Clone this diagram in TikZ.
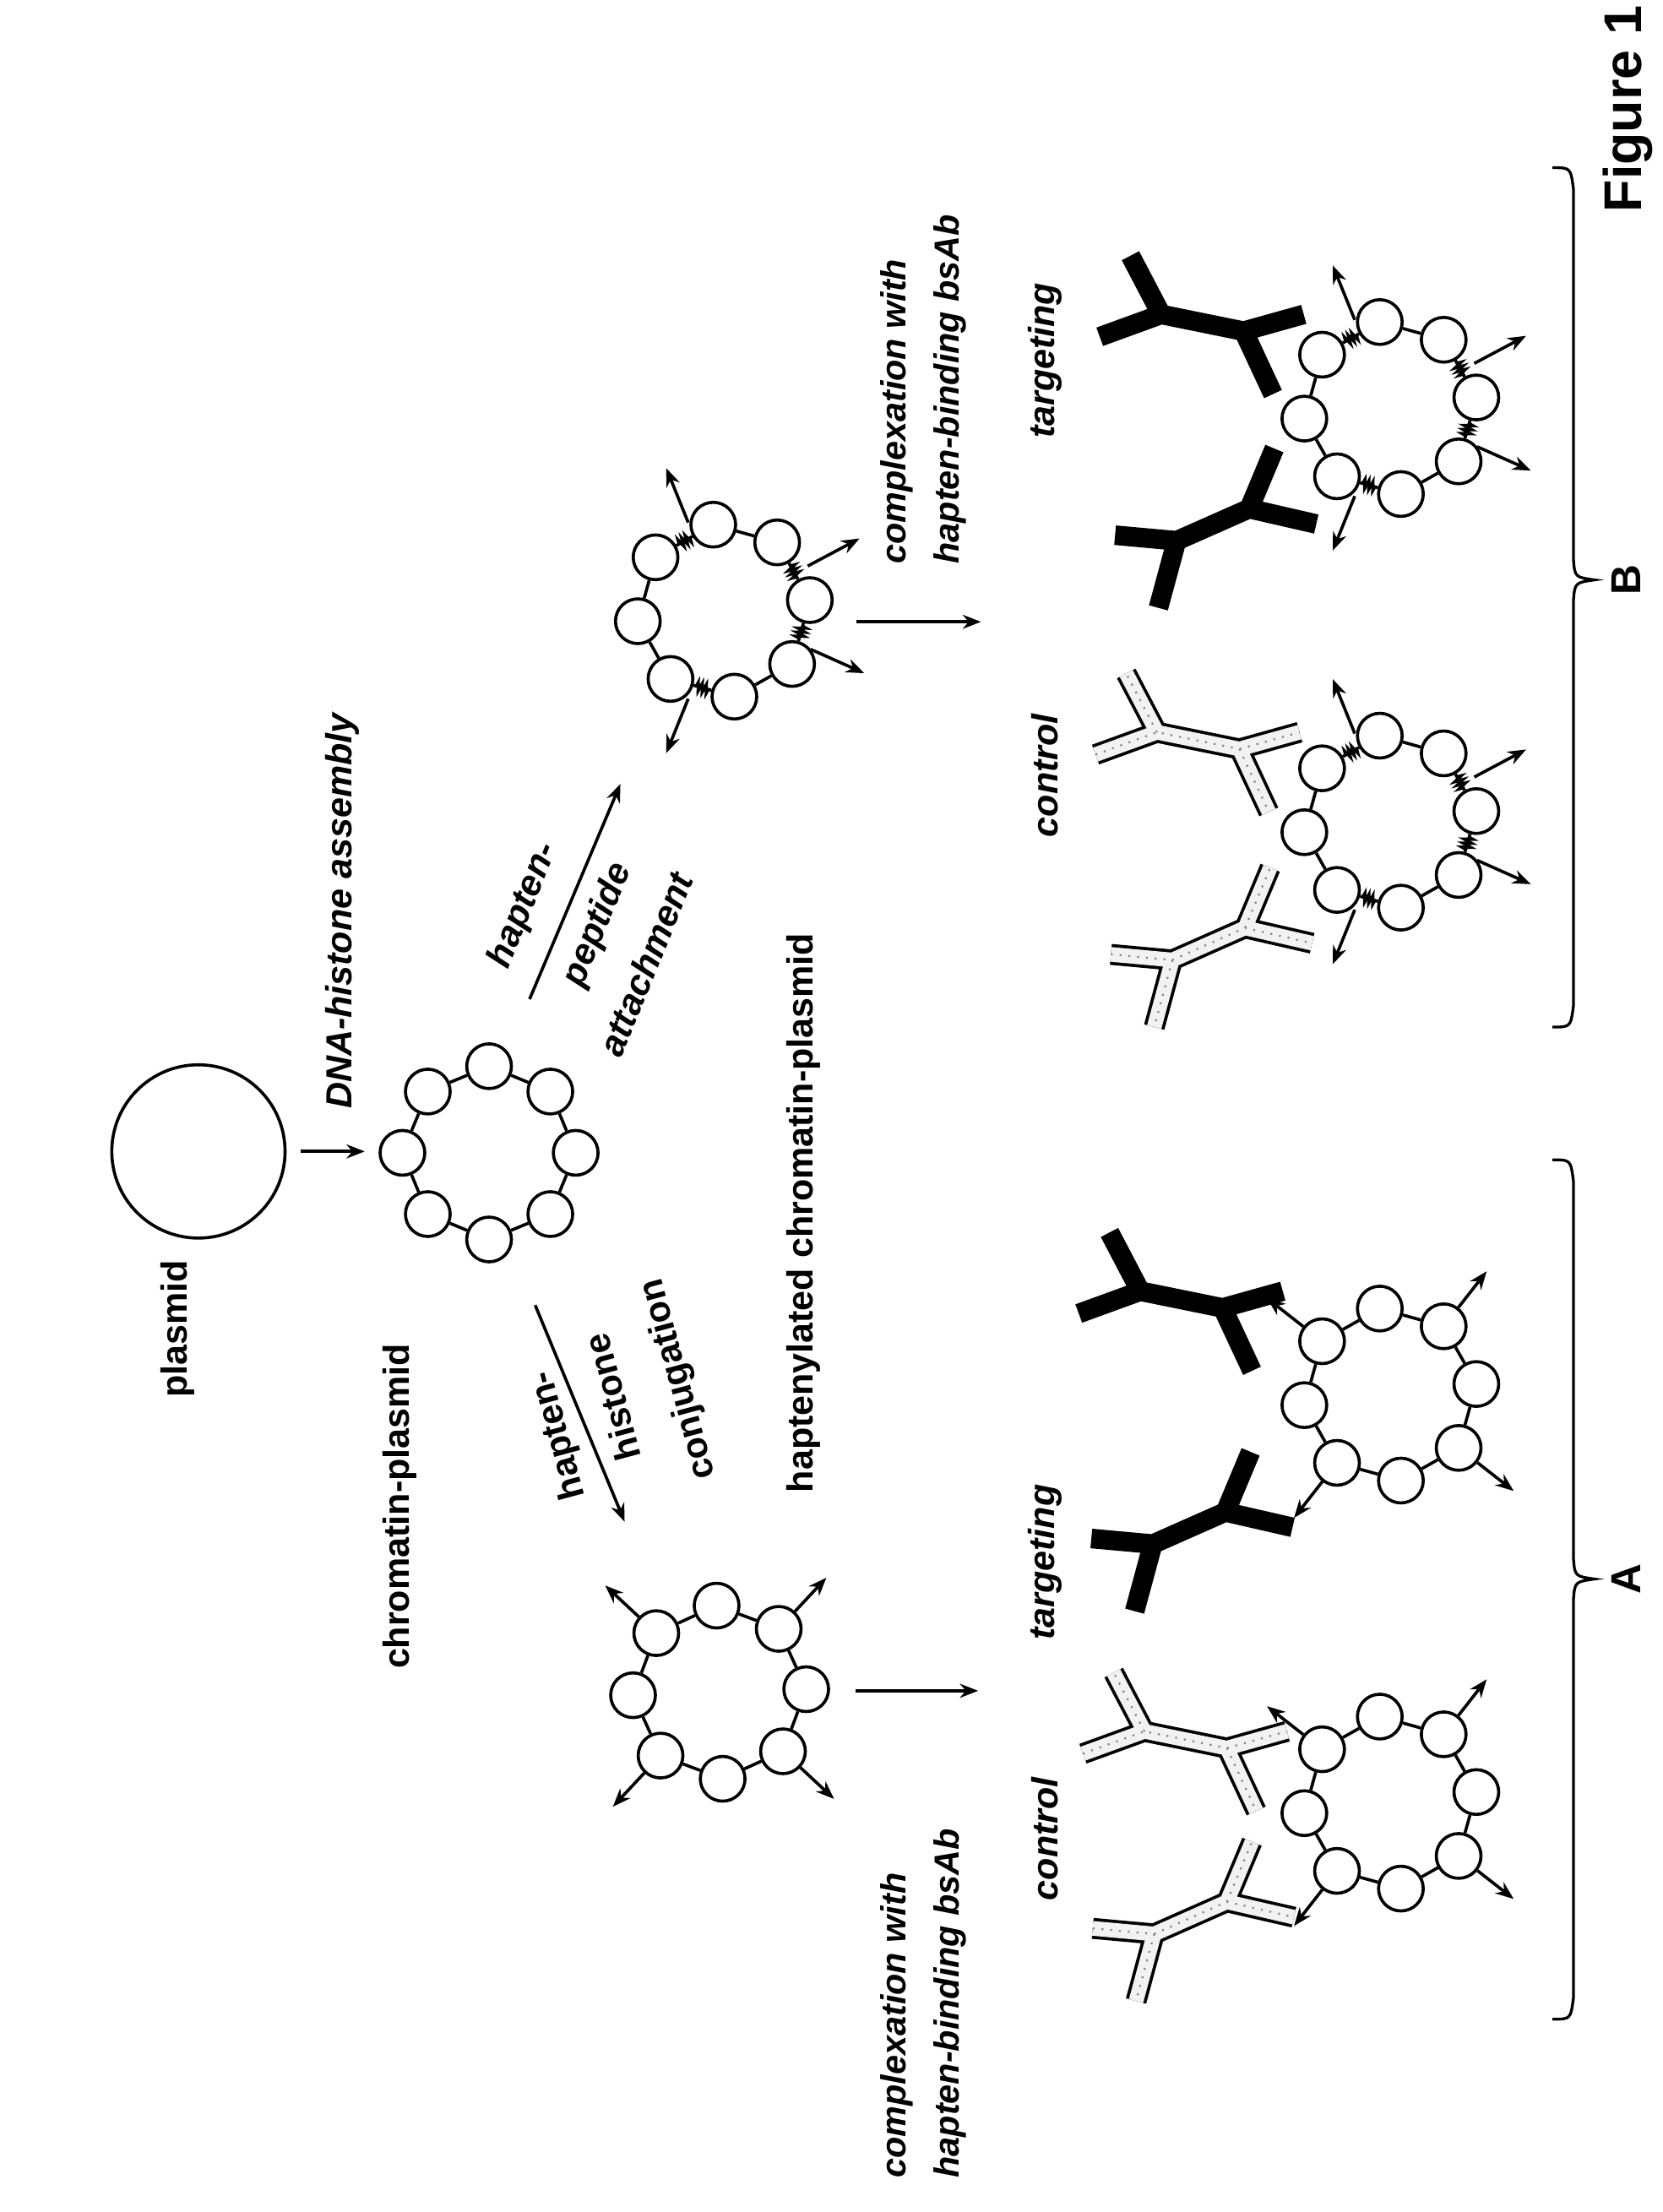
\documentclass[tikz,border=0pt]{standalone}
\usepackage{fontspec}
\setmainfont{Liberation Sans}
\usetikzlibrary{calc,arrows.meta,decorations.pathmorphing}
\newcommand\abdraw[2]{\ifnum#2=1 \draw[line width=14pt,black,line join=round] #1; \else \draw[line width=15pt,black,line join=round] #1; \draw[line width=10.5pt,color=gray!10,line join=round] #1; \draw[line width=1.3pt,gray,dash pattern=on 1.3pt off 5pt] #1;\fi}
\tikzset{
 pics/abU/.style={code={\abdraw{(0,0) -- (44,-16) -- (103,-4) -- (146,-16) (44,-16) -- (22,-58) (103,-4) -- (124,41)}{#1}}},
 pics/abL/.style={code={\abdraw{(0,0) -- (44,4) -- (96,-19) -- (144,-8) (44,4) -- (31,52) (96,-19) -- (114,-62)}{#1}}},
 lbl/.style={font=\fontsize{26}{31}\selectfont\bfseries, rotate=90},
 bi/.style={font=\fontsize{26}{39}\selectfont\bfseries\itshape, rotate=90},
 cx/.style={font=\fontsize{25}{38}\selectfont\bfseries\itshape, rotate=90, align=left, anchor=west},
 bead/.style={circle, draw, line width=2.2pt, fill=white, minimum size=32pt, inner sep=0pt},
 ln/.style={line width=2.2pt},
 arr/.style={line width=2.2pt, -{Stealth[length=13pt,width=10pt]}},
 wavy/.style={line width=2.2pt, decorate, decoration={zigzag, segment length=3pt, amplitude=3pt, pre length=2pt, post length=2pt}},
}
\newcommand\ringbase[4]{%
 \coordinate (#1-c) at (#2,#3);
 \foreach \k in {0,...,7}{\node[bead] (#1-\k) at ($(#1-c)+({-(#4+45*\k)}:62)$) {};}
}
\newcommand\plainlinks[1]{\foreach \k in {0,...,7}{\pgfmathtruncatemacro\n{mod(\k+1,8)}\draw[ln] (#1-\k) -- (#1-\n);}}
\newcommand\ringA[4]{\ringbase{#1}{#2}{#3}{#4}\plainlinks{#1}%
 \foreach \k in {1,3,5,7}{\coordinate (#1-t\k) at ($(#1-c)+({-(#4+45*\k)}:112)$); \draw[arr] (#1-\k) -- (#1-t\k);}}
\newcommand\ringB[3]{\ringbase{#1}{#2}{#3}{7}%
 \foreach \a/\b in {1/2,3/4,4/5,6/7}{\draw[ln] (#1-\a) -- (#1-\b);}
 \foreach \a/\b in {2/3,0/1,7/0,5/6}{\draw[wavy] (#1-\a) -- (#1-\b);}
 \foreach \a [count=\i] in {112,28,-24,-112}{\coordinate (#1-s\i) at ($(#1-c)+({-\a}:68)$); \coordinate (#1-t\i) at ($(#1-c)+({-\a}:110)$); \draw[arr] (#1-s\i) -- (#1-t\i);}}
\begin{document}
\begin{tikzpicture}[x=1pt,y=-1pt]
\useasboundingbox (0,0) rectangle (1190,1583);
\node[font=\fontsize{38}{46}\selectfont\bfseries, rotate=90] (fig) at (1165,78) {Figure 1};
% plasmid
\node[circle, draw, line width=2.2pt, minimum size=124pt, inner sep=0pt] (plasmid) at (142,824) {};
\node[lbl] (lplasmid) at (127,951) {plasmid};
\coordinate (p1) at (215,824); \coordinate (p2) at (261,824);
\draw[arr] (p1) -- (p2);
\node[bi] (ldna) at (245,652) {DNA-histone assembly};
% chromatin
\ringbase{ch}{350}{825}{0}\plainlinks{ch}
\node[lbl] (lchrom) at (286,1078) {chromatin-plasmid};
\node[lbl] (lhapt) at (575,868) {haptenylated chromatin-plasmid};
% arrows to haptenylated
\coordinate (h1) at (383,934); \coordinate (h2) at (447,1089);
\draw[arr] (h1) -- (h2);
\node[font=\fontsize{26}{31}\selectfont\bfseries, rotate=105] (lh1) at (400,1027) {hapten-};
\node[font=\fontsize{26}{31}\selectfont\bfseries, rotate=105] (lh2) at (438,1000) {histone};
\node[font=\fontsize{26}{31}\selectfont\bfseries, rotate=105] (lh3) at (486,987) {conjugation};
\coordinate (q1) at (379,715); \coordinate (q2) at (444,561);
\draw[arr] (q1) -- (q2);
\node[font=\fontsize{26}{31}\selectfont\bfseries\itshape, rotate=68] (lp1) at (375,648) {hapten-};
\node[font=\fontsize{26}{31}\selectfont\bfseries\itshape, rotate=68] (lp2) at (428,662) {peptide};
\node[font=\fontsize{26}{31}\selectfont\bfseries\itshape, rotate=68] (lp3) at (462,690) {attachment};
% haptenylated rings
\ringA{am}{515}{1211}{2}
\ringB{bm}{518}{437}
% complexation arrows
\coordinate (a1) at (612,1210); \coordinate (a2) at (700,1210);
\draw[arr] (a1) -- (a2);
\coordinate (b1) at (613,445); \coordinate (b2) at (702,445);
\draw[arr] (b1) -- (b2);
\node[cx] (lcA) at (661,1562) {complexation with\\hapten-binding bsAb};
\node[cx] (lcB) at (661,407) {complexation with\\hapten-binding bsAb};
\node[bi] (ctrlA) at (748,1316) {control};
\node[bi] (targA) at (748,1118) {targeting};
\node[bi] (ctrlB) at (748,555) {control};
\node[bi] (targB) at (748,258) {targeting};
% A group
\pic at (772,940) {abU=1};
\pic at (781,1101) {abL=1};
\pic at (775,1255) {abU=0};
\pic at (782,1380) {abL=0};
\ringA{ra1}{995}{998}{7}
\ringA{ra2}{995}{1290}{7}
% B group
\pic at (787,241) {abU=1};
\pic at (798,383) {abL=1};
\pic at (784,540) {abU=0};
\pic at (795,683) {abL=0};
\ringB{rb1}{995}{292}
\ringB{rb2}{995}{588}
% braces
\draw[line width=2pt] (1111,120) .. controls (1124,120) .. (1126,135) -- (1126,400) .. controls (1127,413) .. (1141,415) .. controls (1127,417) .. (1126,430) -- (1126,720) .. controls (1124,735) .. (1111,735);
\draw[line width=2pt] (1111,830) .. controls (1124,830) .. (1126,845) -- (1126,1115) .. controls (1127,1128) .. (1141,1130) .. controls (1127,1132) .. (1126,1145) -- (1126,1430) .. controls (1124,1445) .. (1111,1445);
\node[font=\fontsize{30}{36}\selectfont\bfseries, rotate=90] (lB) at (1164,415) {B};
\node[font=\fontsize{30}{36}\selectfont\bfseries, rotate=90] (lA) at (1164,1130) {A};
\end{tikzpicture}
\end{document}
